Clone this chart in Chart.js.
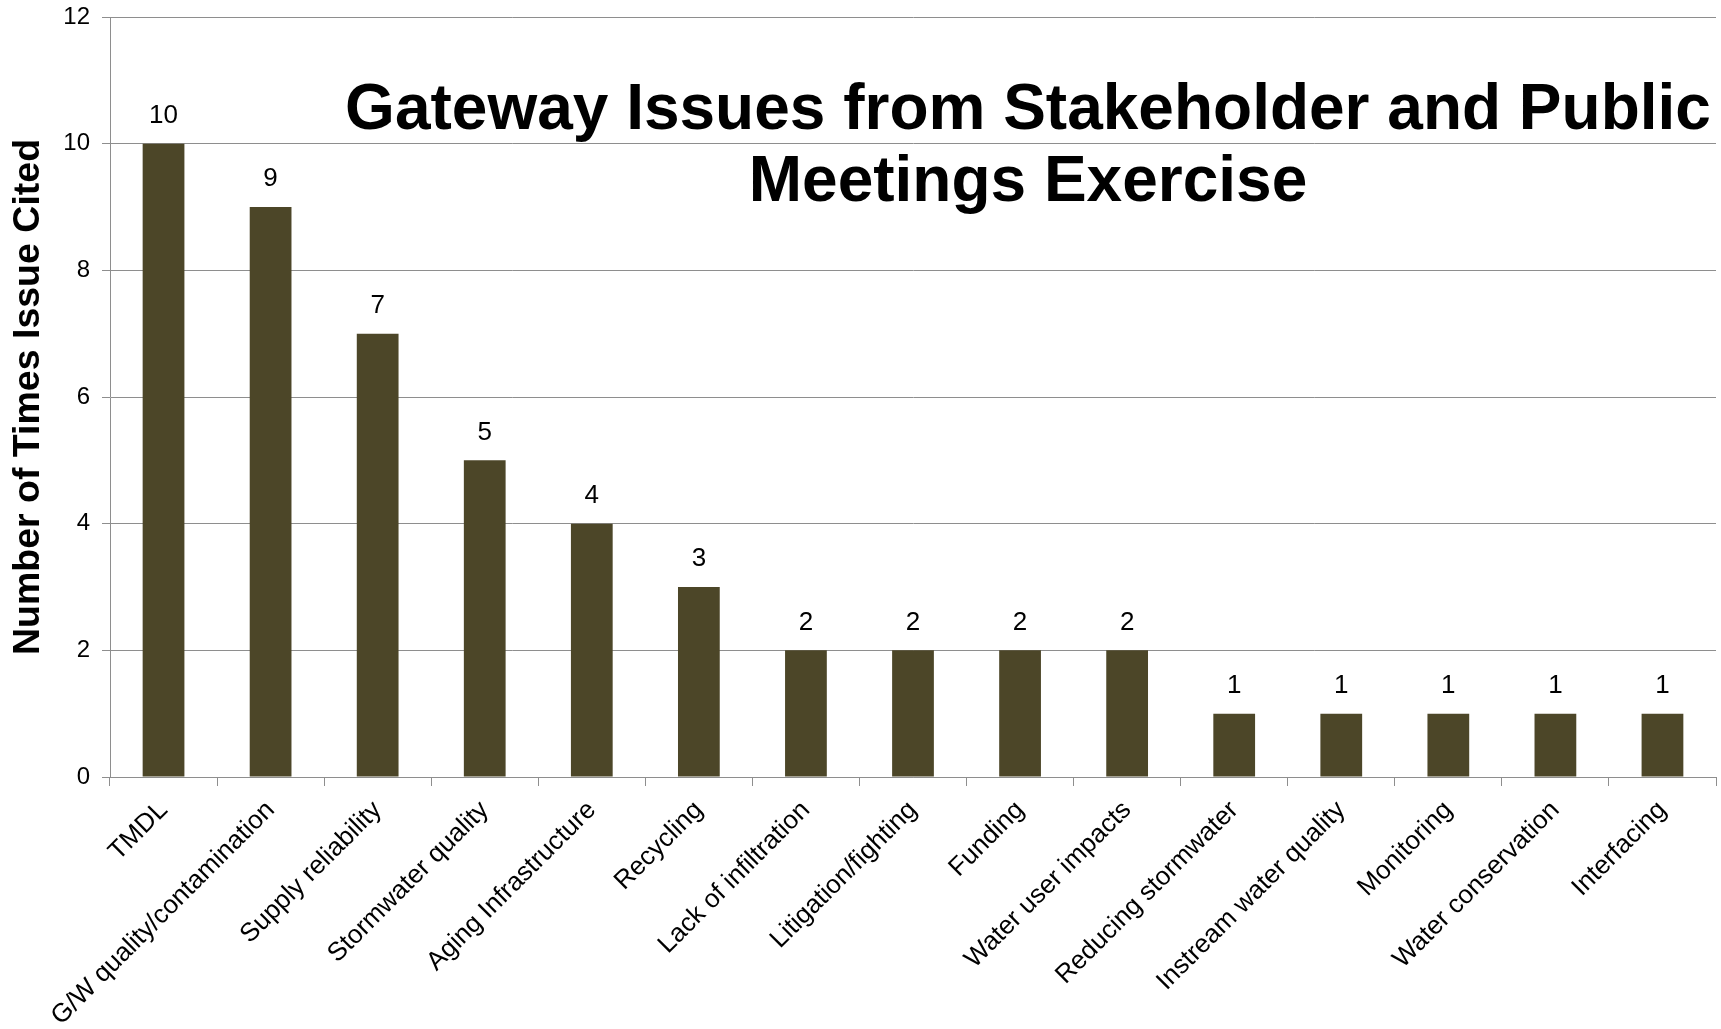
<!DOCTYPE html>
<html>
<head>
<meta charset="utf-8">
<script src="https://cdn.jsdelivr.net/npm/chart.js@4"></script>
<style>
  html, body { margin: 0; padding: 0; background: #fff; }
  #wrap { position: relative; width: 1721px; height: 1029px; }
  #chartTitle {
    position: absolute; left: 278px; top: 71px; width: 1500px;
    text-align: center; font: bold 64px "Liberation Sans", Arial, sans-serif;
    line-height: 72px; color: #000; pointer-events: none;
  }
</style>
</head>
<body>
<div id="wrap">
  <canvas id="issuesChart" width="1721" height="1029"></canvas>
  <div id="chartTitle">Gateway Issues from Stakeholder and Public<br>Meetings Exercise</div>
</div>
<script>
const issues = [
  "TMDL", "G/W quality/contamination", "Supply reliability", "Stormwater quality",
  "Aging Infrastructure", "Recycling", "Lack of infiltration", "Litigation/fighting",
  "Funding", "Water user impacts", "Reducing stormwater", "Instream water quality",
  "Monitoring", "Water conservation", "Interfacing"
];
const timesCited = [10, 9, 7, 5, 4, 3, 2, 2, 2, 2, 1, 1, 1, 1, 1];
const yTicks = [0, 2, 4, 6, 8, 10, 12];

const barColor = "#4c4628";
const gridColor = "#8e8e8e";
const fontFamily = "'Liberation Sans', Arial, sans-serif";

// value labels above each bar
const barLabels = {
  id: "barLabels",
  afterDatasetsDraw(chart) {
    const ctx = chart.ctx;
    const meta = chart.getDatasetMeta(0);
    ctx.save();
    ctx.font = "26px " + fontFamily;
    ctx.fillStyle = "#000";
    ctx.textAlign = "center";
    ctx.textBaseline = "bottom";
    meta.data.forEach((bar, i) => {
      ctx.fillText(String(timesCited[i]), bar.x, bar.y - 15);
    });
    ctx.restore();
  }
};

new Chart(document.getElementById("issuesChart"), {
  type: "bar",
  data: {
    labels: issues,
    datasets: [{
      label: "Number of Times Issue Cited",
      data: timesCited,
      backgroundColor: barColor,
      barPercentage: 0.39,
      categoryPercentage: 1
    }]
  },
  options: {
    responsive: false,
    animation: false,
    layout: { padding: { top: 17, right: 5, left: 0, bottom: 0 } },
    plugins: {
      legend: { display: false },
      tooltip: { enabled: false }
    },
    scales: {
      x: {
        grid: { offset: true, drawOnChartArea: false, drawTicks: true, tickLength: 9, color: gridColor },
        border: { color: gridColor, width: 1 },
        ticks: {
          minRotation: 45, maxRotation: 45, autoSkip: false, padding: 9,
          color: "#000", font: { size: 26, family: fontFamily }
        },
        afterFit(scale) { scale.height = 252; }
      },
      y: {
        min: 0, max: 12,
        afterBuildTicks(scale) { scale.ticks = yTicks.map(v => ({ value: v })); },
        grid: { color: gridColor, tickLength: 8 },
        border: { color: gridColor, width: 1 },
        ticks: { padding: 12, color: "#000", font: { size: 24, family: fontFamily } },
        title: {
          display: true, text: "Number of Times Issue Cited", color: "#000",
          font: { size: 37.5, weight: "bold", family: fontFamily },
          padding: { top: 6, bottom: 0 }
        },
        afterFit(scale) {
          scale.width = 110;
          scale.paddingTop = 0;
        }
      }
    }
  },
  plugins: [barLabels]
});
</script>
</body>
</html>
